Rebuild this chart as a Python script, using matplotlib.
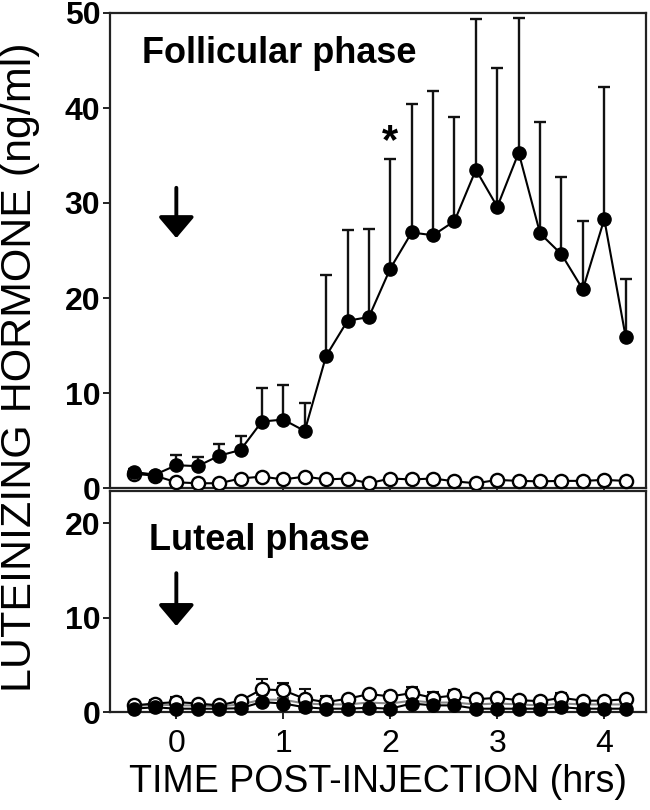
import matplotlib
matplotlib.use("Agg")
import matplotlib.pyplot as plt
import numpy as np

plt.rcParams['font.family'] = ['Liberation Sans', 'DejaVu Sans']

# ---- data ----
time_hrs = [-0.4, -0.2, 0.0, 0.2, 0.4, 0.6, 0.8, 1.0, 1.2, 1.4, 1.6, 1.8,
            2.0, 2.2, 2.4, 2.6, 2.8, 3.0, 3.2, 3.4, 3.6, 3.8, 4.0, 4.2]

foll_filled = [1.7, 1.4, 2.4, 2.3, 3.4, 4.0, 7.0, 7.2, 6.0, 13.9, 17.6, 18.0,
               23.1, 26.9, 26.6, 28.1, 33.5, 29.6, 35.3, 26.8, 24.6, 20.9, 28.3, 15.9]
foll_filled_upper = [2.0, 1.6, 3.5, 3.3, 4.6, 5.5, 10.5, 10.8, 8.9, 22.4, 27.2, 27.3,
                     34.6, 40.4, 41.8, 39.1, 49.4, 44.2, 49.5, 38.5, 32.7, 28.1, 42.2, 22.0]
foll_open = [1.5, 1.3, 0.6, 0.5, 0.5, 1.0, 1.2, 0.9, 1.2, 0.9, 1.0, 0.5,
             1.0, 0.9, 1.0, 0.7, 0.5, 0.85, 0.75, 0.7, 0.75, 0.75, 0.85, 0.75]

lut_open = [0.7, 0.9, 1.05, 0.9, 0.7, 1.2, 2.4, 2.3, 1.4, 1.05, 1.4, 1.9,
            1.65, 2.0, 1.5, 1.75, 1.35, 1.5, 1.25, 1.15, 1.5, 1.2, 1.2, 1.35]
lut_open_upper = [0.9, 1.3, 1.6, 1.1, 0.9, 1.5, 3.5, 3.1, 2.4, 1.65, 1.6, 2.1,
                  2.1, 2.6, 2.1, 2.3, 1.5, 1.7, 1.4, 1.3, 2.0, 1.4, 1.4, 1.5]
lut_filled = [0.35, 0.5, 0.35, 0.35, 0.35, 0.4, 1.05, 0.9, 0.5, 0.35, 0.35, 0.45,
              0.35, 0.9, 0.7, 0.7, 0.35, 0.35, 0.35, 0.35, 0.5, 0.35, 0.35, 0.35]
lut_filled_upper = [0.6, 0.9, 0.6, 0.6, 0.6, 0.7, 1.8, 1.5, 1.2, 0.7, 0.7, 0.8,
                    0.6, 1.5, 1.3, 1.3, 0.6, 0.6, 0.6, 0.6, 0.9, 0.6, 0.6, 0.6]
lut_gray = [0.6, 0.8, 0.7, 0.7, 0.6, 0.8, 1.3, 1.3, 0.9, 0.8, 0.8, 1.0,
            0.9, 1.2, 1.0, 1.0, 0.8, 0.9, 0.8, 0.7, 0.9, 0.8, 0.8, 0.8]

xticks = [0, 1, 2, 3, 4]
top_yticks = [0, 10, 20, 30, 40, 50]
bot_yticks = [0, 10, 20]

t = np.array(time_hrs)

fig = plt.figure(figsize=(6.5, 8.1), dpi=100)
W, H = 650, 810
left, right = 110 / W, 646 / W
ax1 = fig.add_axes([left, 1 - 488 / H, right - left, (488 - 13) / H])
ax2 = fig.add_axes([left, 1 - 712 / H, right - left, (712 - 491) / H])

XLIM = (-0.62, 4.39)
ms = 9.5
lw = 1.5

def style(ax, ylim, yticks, xlabels):
    ax.set_xlim(*XLIM)
    ax.set_ylim(*ylim)
    ax.set_xticks(xticks)
    ax.set_yticks(yticks)
    for s in ax.spines.values():
        s.set_linewidth(1.6)
        s.set_color('#222222')
    ax.tick_params(axis='both', direction='out', length=5, width=1.4, color='#222222')
    ax.tick_params(axis='y', labelsize=23, pad=2)
    for lab in ax.get_yticklabels():
        lab.set_fontweight('bold')
    if xlabels:
        ax.tick_params(axis='x', labelsize=23, pad=7)
    else:
        ax.tick_params(axis='x', labelbottom=False)

# ---- top: follicular phase ----
ff = np.array(foll_filled)
ax1.errorbar(t, ff, yerr=[np.zeros_like(ff), np.array(foll_filled_upper) - ff],
             fmt='none', ecolor='#111111', elinewidth=1.7, capsize=4.5, capthick=1.7, zorder=2)
ax1.plot(t, foll_open, '-o', color='black', lw=lw, ms=ms, mfc='white', mec='black',
         mew=1.7, zorder=3, clip_on=False)
ax1.plot(t, ff, '-o', color='black', lw=lw, ms=ms, mfc='black', mec='black', zorder=4,
         clip_on=False)
style(ax1, (0, 50), top_yticks, False)
ax1.text(-0.318, 44.7, 'Follicular phase', fontsize=26, fontweight='bold', va='baseline',
         ha='left')
ax1.text(2.0, 36.4, '*', fontsize=30, fontweight='bold', ha='center', va='center')
ax1.annotate('', xy=(0, 26.3), xytext=(0, 31.6),
             arrowprops=dict(arrowstyle='-|>,head_length=0.65,head_width=0.55', lw=2.8,
                             color='black', mutation_scale=20, shrinkA=0, shrinkB=0))

# ---- bottom: luteal phase ----
lo = np.array(lut_open)
lf = np.array(lut_filled)
ax2.plot(t, lut_gray, '-', color='#888888', lw=1.5, zorder=2, clip_on=False)
ax2.errorbar(t, lo, yerr=[np.zeros_like(lo), np.array(lut_open_upper) - lo],
             fmt='none', ecolor='#111111', elinewidth=1.5, capsize=4.5, capthick=1.5, zorder=2)
ax2.errorbar(t, lf, yerr=[np.zeros_like(lf), np.array(lut_filled_upper) - lf],
             fmt='none', ecolor='#555555', elinewidth=1.5, capsize=4.5, capthick=1.5, zorder=2)
ax2.plot(t, lo, '-o', color='black', lw=lw, ms=ms, mfc='white', mec='black', mew=1.7,
         zorder=3, clip_on=False)
ax2.plot(t, lf, '-o', color='black', lw=lw, ms=ms, mfc='black', mec='black', zorder=4,
         clip_on=False)
style(ax2, (0, 23.4), bot_yticks, True)
ax2.text(-0.26, 17.2, 'Luteal phase', fontsize=26, fontweight='bold', va='baseline',
         ha='left')
ax2.annotate('', xy=(0, 9.1), xytext=(0, 14.7),
             arrowprops=dict(arrowstyle='-|>,head_length=0.65,head_width=0.55', lw=2.8,
                             color='black', mutation_scale=20, shrinkA=0, shrinkB=0))
ax2.set_xlabel('TIME POST-INJECTION (hrs)', fontsize=27, labelpad=4)

fig.text(20 / W, 1 - 367 / H, 'LUTEINIZING HORMONE (ng/ml)', rotation=90,
         fontsize=31, ha='center', va='center')

fig.savefig('out.png', dpi=100)
